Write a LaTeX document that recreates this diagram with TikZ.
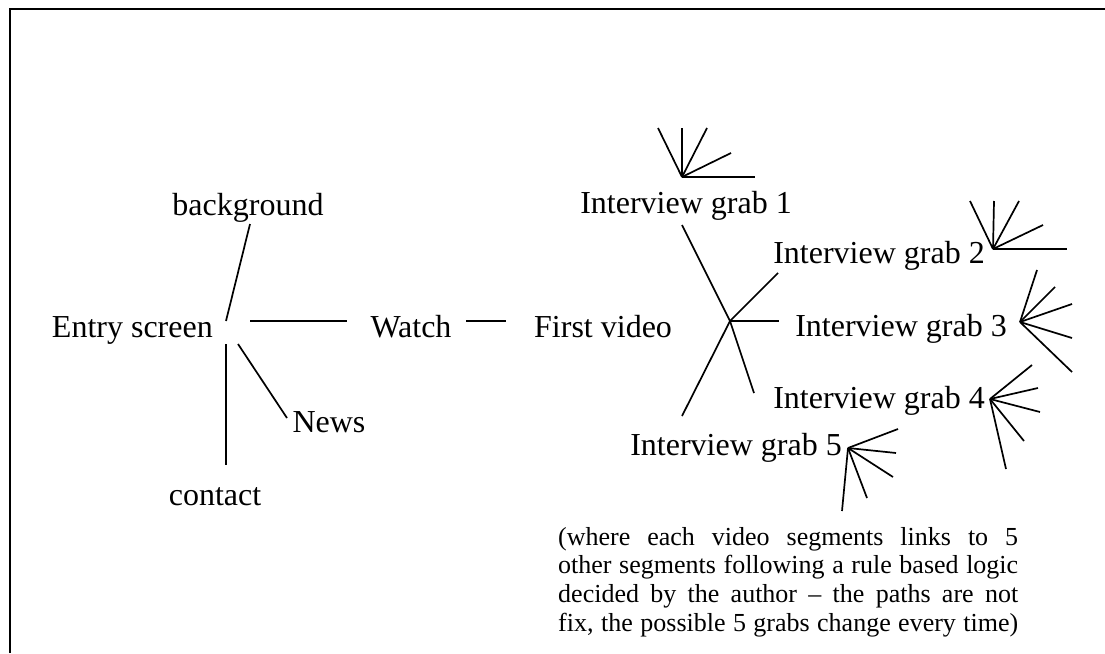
\documentclass[tikz,border=0pt]{standalone}
\usepackage{fontspec}
\setmainfont{Liberation Serif}
\begin{document}
\begin{tikzpicture}[x=1pt,y=-1pt,
  lbl/.style={font=\fontsize{32}{38}\selectfont, inner sep=0pt, anchor=base},
  ln/.style={line width=1.7pt},
  frame/.style={line width=2.6pt}]
\useasboundingbox (0,0) rectangle (1105,653);
\draw[frame] (10,653) -- (10,9) -- (1105,9);

% labels
\node[lbl, anchor=base east] (entry) at (213,337) {Entry screen};
\node[lbl] (watch) at (411,337) {Watch};
\node[lbl, anchor=base west] (first) at (534,337) {First video};
\node[lbl] (bg) at (248,215) {background};
\node[lbl] (news) at (329,432) {News};
\node[lbl] (contact) at (215,505) {contact};
\node[lbl] (g1) at (686,213) {Interview grab 1};
\node[lbl] (g2) at (879,263) {Interview grab 2};
\node[lbl] (g3) at (901,336) {Interview grab 3};
\node[lbl] (g4) at (879,408) {Interview grab 4};
\node[lbl] (g5) at (736,455) {Interview grab 5};

% entry hub
\coordinate (bgA) at (250,224);  \coordinate (bgB) at (226,321);
\coordinate (wA) at (250,321);   \coordinate (wB) at (347,321);
\coordinate (cA) at (226,344);   \coordinate (cB) at (226,465);
\coordinate (nA) at (238,344);   \coordinate (nB) at (287,418);
\coordinate (vA) at (466,321);   \coordinate (vB) at (506,321);
\draw[ln] (bgA) -- (bgB);
\draw[ln] (wA) -- (wB);
\draw[ln] (cA) -- (cB);
\draw[ln] (nA) -- (nB);
\draw[ln] (vA) -- (vB);

% video hub
\coordinate (hub) at (730,321);
\coordinate (e1) at (682,225);
\coordinate (e2) at (778,273);
\coordinate (e3) at (779,321);
\coordinate (e4) at (754,393);
\coordinate (e5) at (682,416);
\foreach \e in {e1,e2,e3,e4,e5} \draw[ln] (hub) -- (\e);

% fans
\coordinate (f1) at (682,177);
\foreach \p in {(658,128),(682,128),(707,128),(731,153),(755,177)} \draw[ln] (f1) -- \p;
\coordinate (f2) at (993,249);
\foreach \p in {(970,201),(994,201),(1019,201),(1043,225),(1067,249)} \draw[ln] (f2) -- \p;
\coordinate (f3) at (1020,322);
\foreach \p in {(1037,270),(1055,287),(1072,304),(1072,338),(1072,372)} \draw[ln] (f3) -- \p;
\coordinate (f4) at (990,399);
\foreach \p in {(1032,365),(1038,388),(1040,412),(1024,441),(1006,469)} \draw[ln] (f4) -- \p;
\coordinate (f5) at (848,448);
\foreach \p in {(898,429),(896,453),(893,477),(867,498),(842,511)} \draw[ln] (f5) -- \p;

% note
\node[inner sep=0pt, anchor=north west, font=\fontsize{26}{29}\selectfont] (note) at (558,527) {%
\begin{minipage}{460pt}\baselineskip=28.7pt
\makebox[460pt][s]{(where each video segments links to 5}\\
\makebox[460pt][s]{other segments following a rule based logic}\\
\makebox[460pt][s]{decided by the author -- the paths are not}\\
\makebox[460pt][s]{fix, the possible 5 grabs change every time)}
\end{minipage}};
\end{tikzpicture}
\end{document}
